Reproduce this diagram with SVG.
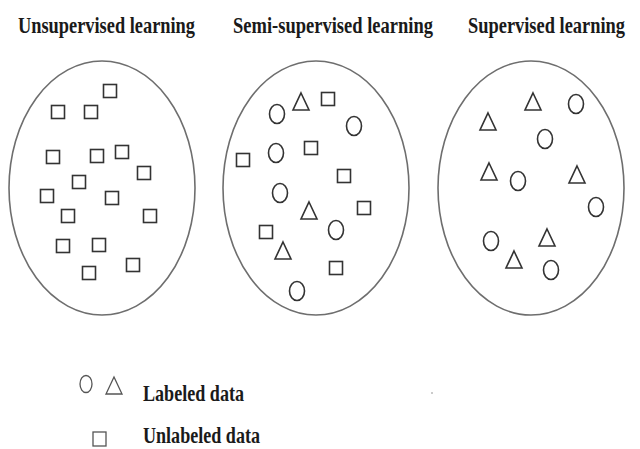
<svg xmlns="http://www.w3.org/2000/svg" width="640" height="449" viewBox="0 0 640 449">
<style>
.title,.leg{font-family:"Liberation Serif","Times New Roman",serif;font-weight:bold;font-size:18.5px;fill:#1a1a1a}
.set{fill:none;stroke:#6e6e6e;stroke-width:1.6}
.pts{fill:none;stroke:#333;stroke-width:1.6}
.lpts{fill:none;stroke:#555;stroke-width:1.3}
</style>
<defs>
<rect id="sq" x="-6.5" y="-6.5" width="13" height="13"/>
<ellipse id="ci" rx="7.5" ry="9.5"/>
<path id="tr" d="M0,-9 L8,8 L-8,8 Z"/>
</defs>
<rect width="640" height="449" fill="#fff"/>

<g id="unsupervised">
<text class="title" transform="translate(18,33) scale(1,1.25)" textLength="177" lengthAdjust="spacingAndGlyphs">Unsupervised learning</text>
<ellipse class="set" cx="102" cy="188" rx="93" ry="127"/>
<g class="pts">
<use href="#sq" x="110" y="91"/>
<use href="#sq" x="58" y="112"/>
<use href="#sq" x="91" y="112"/>
<use href="#sq" x="53" y="157"/>
<use href="#sq" x="97" y="156"/>
<use href="#sq" x="122" y="152"/>
<use href="#sq" x="144" y="173"/>
<use href="#sq" x="79" y="182"/>
<use href="#sq" x="47" y="196"/>
<use href="#sq" x="112" y="198"/>
<use href="#sq" x="68" y="216"/>
<use href="#sq" x="150" y="216"/>
<use href="#sq" x="63" y="246"/>
<use href="#sq" x="99" y="245"/>
<use href="#sq" x="133" y="265"/>
<use href="#sq" x="89" y="273"/>
</g>
</g>

<g id="semi-supervised">
<text class="title" transform="translate(233,33) scale(1,1.25)" textLength="200" lengthAdjust="spacingAndGlyphs">Semi-supervised learning</text>
<ellipse class="set" cx="316" cy="188" rx="93" ry="127"/>
<g class="pts">
<use href="#ci" x="277" y="114"/>
<use href="#tr" x="301" y="102"/>
<use href="#sq" x="328" y="99"/>
<use href="#ci" x="354" y="126"/>
<use href="#sq" x="311" y="148"/>
<use href="#ci" x="276" y="153"/>
<use href="#sq" x="243" y="160"/>
<use href="#sq" x="344" y="176"/>
<use href="#ci" x="280" y="193"/>
<use href="#tr" x="309" y="211"/>
<use href="#sq" x="364" y="208"/>
<use href="#ci" x="336" y="230"/>
<use href="#sq" x="266" y="232"/>
<use href="#tr" x="283" y="251"/>
<use href="#sq" x="336" y="268"/>
<use href="#ci" x="297" y="291"/>
</g>
</g>

<g id="supervised">
<text class="title" transform="translate(468,33) scale(1,1.25)" textLength="157" lengthAdjust="spacingAndGlyphs">Supervised learning</text>
<ellipse class="set" cx="531" cy="188" rx="93" ry="127"/>
<g class="pts">
<use href="#tr" x="533" y="102"/>
<use href="#ci" x="576" y="104"/>
<use href="#tr" x="488" y="122"/>
<use href="#ci" x="545" y="139"/>
<use href="#tr" x="489" y="172"/>
<use href="#ci" x="518" y="181"/>
<use href="#tr" x="577" y="175"/>
<use href="#ci" x="596" y="207"/>
<use href="#ci" x="491" y="241"/>
<use href="#tr" x="547" y="238"/>
<use href="#tr" x="514" y="260"/>
<use href="#ci" x="551" y="270"/>
</g>
</g>

<g id="legend">
<g class="lpts">
<ellipse cx="86" cy="384" rx="6" ry="8.5"/>
<path d="M114,377 L122,394 L106,394 Z"/>
<rect x="93" y="432" width="13" height="14"/>
</g>
<text class="leg" transform="translate(143,401) scale(1,1.25)" textLength="101" lengthAdjust="spacingAndGlyphs">Labeled data</text>
<text class="leg" transform="translate(143,443) scale(1,1.25)" textLength="117" lengthAdjust="spacingAndGlyphs">Unlabeled data</text>
<circle cx="432" cy="393" r="0.8" fill="#888"/>
</g>
</svg>
